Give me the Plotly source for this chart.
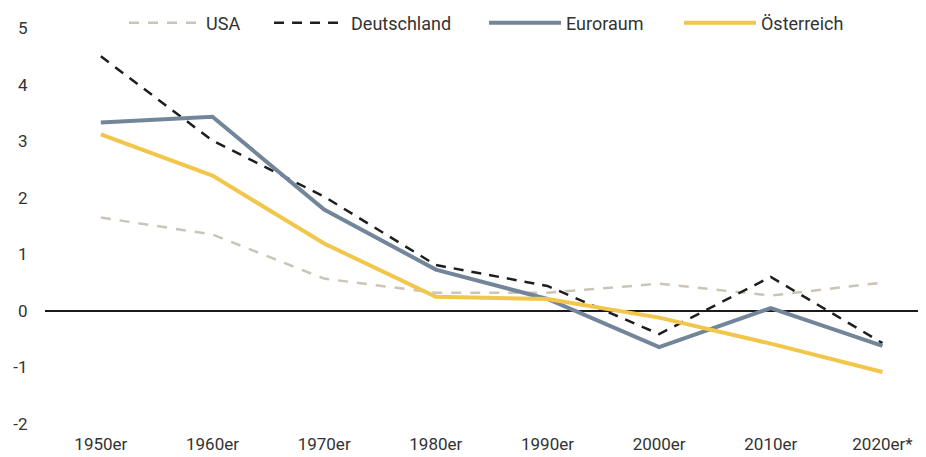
import plotly.graph_objects as go

decades = ["1950er", "1960er", "1970er", "1980er", "1990er", "2000er", "2010er", "2020er*"]
usa = [1.65, 1.35, 0.57, 0.32, 0.32, 0.48, 0.27, 0.50]
deutschland = [4.50, 3.01, 2.02, 0.81, 0.44, -0.41, 0.60, -0.57]
euroraum = [3.33, 3.43, 1.79, 0.73, 0.21, -0.64, 0.05, -0.62]
oesterreich = [3.12, 2.39, 1.19, 0.25, 0.21, -0.12, -0.58, -1.08]
y_ticks = [-2, -1, 0, 1, 2, 3, 4, 5]
y_tick_labels = ["-2", "-1", "0", "1", "2", "3", "4", "5"]

FONT = "Roboto, DejaVu Sans Condensed, sans-serif"
TXT = "#333333"

series = [
    ("USA", usa, dict(color="#cbc5b8", width=2.5, dash="10px,9px"), "legend", 0.0897),
    ("Deutschland", deutschland, dict(color="#1e1e1e", width=2.5, dash="10px,8px"), "legend2", 0.2543),
    ("Euroraum", euroraum, dict(color="#738699", width=4), "legend3", 0.4983),
    ("Österreich", oesterreich, dict(color="#f2c64b", width=4), "legend4", 0.7196),
]

fig = go.Figure()
legend_layout = {}
for name, vals, line, lg, lx in series:
    fig.add_trace(go.Scatter(x=decades, y=vals, name=name, mode="lines",
                             line=line, legend=lg))
    legend_layout[lg] = dict(orientation="h", x=lx, y=1.0126, xanchor="left",
                             yanchor="middle", itemwidth=72,
                             bgcolor="rgba(0,0,0,0)", borderwidth=0,
                             font=dict(family=FONT, size=18, color=TXT))

fig.update_layout(
    width=918, height=449,
    margin=dict(l=37, r=0, t=20, b=33, autoexpand=False),
    paper_bgcolor="white", plot_bgcolor="white",
    font=dict(family=FONT, size=17, color=TXT),
    showlegend=True,
    xaxis=dict(type="category", categoryorder="array", categoryarray=decades,
               range=[-0.5, 7.39], showgrid=False, zeroline=False, showline=False,
               ticks="outside", ticklen=5, tickcolor="rgba(0,0,0,0)",
               automargin=False, tickfont=dict(size=17, color=TXT)),
    yaxis=dict(range=[-2, 5], tickvals=y_ticks, ticktext=y_tick_labels,
               showgrid=False, zeroline=True,
               zerolinecolor="#1a1a1a", zerolinewidth=2, showline=False,
               ticks="outside", ticklen=13, tickcolor="rgba(0,0,0,0)",
               automargin=False, tickfont=dict(size=17, color=TXT)),
    **legend_layout,
)

fig.write_html("out.html")
